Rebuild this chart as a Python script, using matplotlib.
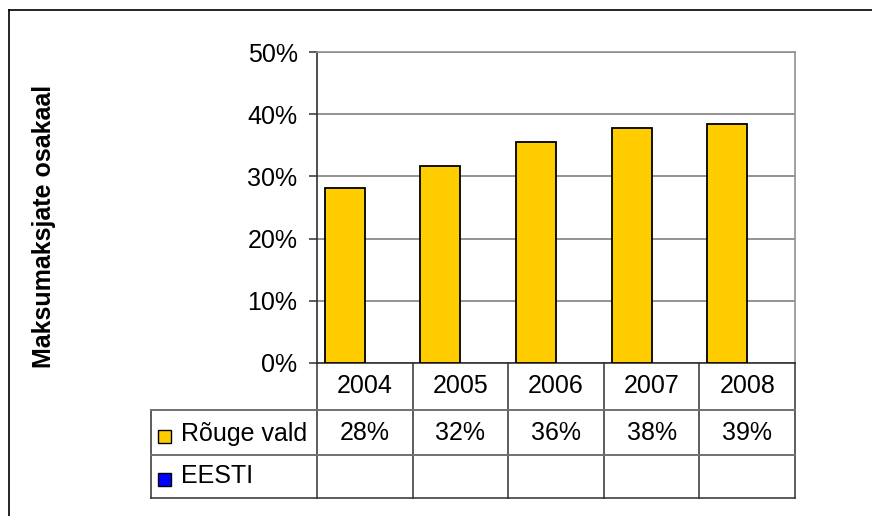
import matplotlib
matplotlib.use('Agg')
import matplotlib.pyplot as plt
from matplotlib.lines import Line2D
from matplotlib.patches import Rectangle
import numpy as np

# ---- data ----
years = ['2004', '2005', '2006', '2007', '2008']
rouge_vald = [28.1, 31.6, 35.5, 37.8, 38.4]
rouge_labels = ['28%', '32%', '36%', '38%', '39%']
eesti = [np.nan, np.nan, np.nan, np.nan, np.nan]
series_names = ['Rõuge vald', 'EESTI']
series_colors = ['#FFCC00', '#0000FF']
yticks = [0, 10, 20, 30, 40, 50]
ytick_labels = ['0%', '10%', '20%', '30%', '40%', '50%']
ylabel = 'Maksumaksjate osakaal'

plt.rcParams['font.family'] = ['Liberation Sans', 'DejaVu Sans']
FS = 18

W, H = 872, 516
fig = plt.figure(figsize=(W / 100, H / 100), dpi=100)
ax_l, ax_r, ax_t, ax_b = 317, 795, 52, 363
ax = fig.add_axes([ax_l / W, 1 - ax_b / H, (ax_r - ax_l) / W, (ax_b - ax_t) / H])

x = np.arange(len(years))
w = 0.418
ax.bar(x - w / 2, rouge_vald, width=w, color=series_colors[0], edgecolor='black',
       linewidth=1.3, zorder=3)
ax.set_xlim(-0.5, len(years) - 0.5)
ax.set_ylim(0, 50)
ax.set_yticks(yticks)
ax.set_yticklabels(ytick_labels, fontsize=FS)
ax.set_xticks([])
ax.yaxis.grid(True, color='#808080', linewidth=1.2)
ax.set_axisbelow(True)
for s in ['left', 'bottom']:
    ax.spines[s].set_color('#303030')
    ax.spines[s].set_linewidth(1.2)
for s in ['top', 'right']:
    ax.spines[s].set_color('#909090')
    ax.spines[s].set_linewidth(1.2)
ax.tick_params(axis='y', length=6, width=1.1, color='#303030', pad=8)

# ---- data table ----
ah = ax_b - ax_t
aw = ax_r - ax_l
def fy(py):
    return -(py - ax_b) / ah
def fx(px):
    return (px - ax_l) / aw

y_head = fy(409.5)
y_r1 = fy(455)
y_r2 = fy(497.5)
x_leg = fx(151)

def line(xs, ys, color, lw):
    ax.add_line(Line2D(xs, ys, transform=ax.transAxes, color=color, lw=lw,
                       clip_on=False, zorder=5))

n = len(years)
for i in range(n + 1):
    line([i / n, i / n], [0, y_r2], '#303030', 1.1)
line([x_leg, x_leg], [y_head, y_r2], '#303030', 1.1)
line([x_leg, 1], [y_head, y_head], '#707070', 1.4)
line([x_leg, 1], [y_r1, y_r1], '#707070', 1.4)
line([x_leg, 1], [y_r2, y_r2], '#303030', 1.1)

tr = ax.get_xaxis_transform()
for xi, yr, lab in zip(x, years, rouge_labels):
    ax.text(xi, fy(386), yr, transform=tr, ha='center', va='center', fontsize=FS, clip_on=False)
    ax.text(xi, fy(433), lab, transform=tr, ha='center', va='center', fontsize=FS, clip_on=False)

key = 13
for name, col, cy in zip(series_names, series_colors, [436.5, 479]):
    ax.add_patch(Rectangle((fx(158), fy(cy + key / 2)), key / aw, key / ah,
                           transform=ax.transAxes, facecolor=col, edgecolor='black',
                           lw=1.0, clip_on=False, zorder=6))
    ax.text(fx(181), fy(cy - 3), name, transform=ax.transAxes, ha='left', va='center',
            fontsize=FS, clip_on=False)

fig.text(44 / W, 1 - 226 / H, ylabel, rotation=90, fontweight='bold', fontsize=FS,
         ha='center', va='center')

# outer chart border
fig.add_artist(Line2D([9 / W, 1], [1 - 10 / H, 1 - 10 / H], transform=fig.transFigure,
                      color='black', lw=1.2))
fig.add_artist(Line2D([9 / W, 9 / W], [0, 1 - 10 / H], transform=fig.transFigure,
                      color='black', lw=1.2))

fig.savefig('out.png', dpi=100)
